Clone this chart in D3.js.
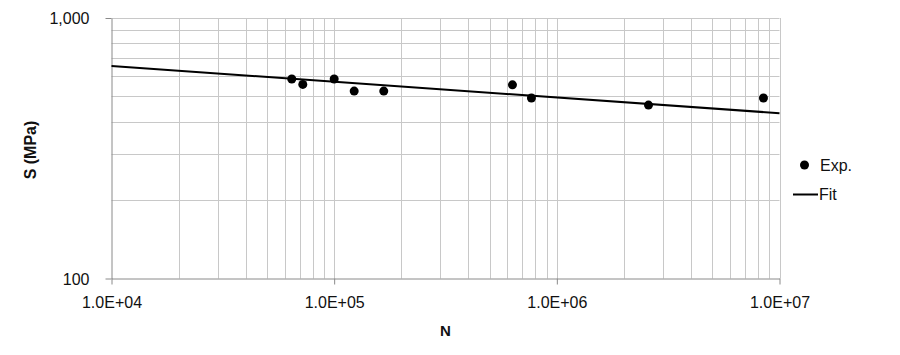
<!DOCTYPE html>
<html>
<head>
<meta charset="utf-8">
<script src="https://cdn.jsdelivr.net/npm/d3@7"></script>
<style>
  body { margin: 0; background: #fff; }
  text { font-family: "Liberation Sans", Arial, sans-serif; }
</style>
</head>
<body>
<svg id="chart"></svg>
<script>
// experimental points (cycles, stress MPa)
var expN = [64500, 72300, 100000, 123000, 167000, 632000, 769000, 2580000, 8470000];
var expS = [583, 556, 583, 524, 524, 554, 493, 463, 493];
// fit line end points
var fitN = [1e4, 1e7];
var fitS = [654, 431];
var xTickLabels = ["1.0E+04", "1.0E+05", "1.0E+06", "1.0E+07"];
var yTickLabels = ["100", "1,000"];

var width = 900, height = 355;
var plotLeft = 111.5, plotRight = 779.5, plotTop = 18, plotBottom = 278.5;

var svg = d3.select("#chart").attr("width", width).attr("height", height);

var x = d3.scaleLog().domain([1e4, 1e7]).range([plotLeft, plotRight]);
var y = d3.scaleLog().domain([100, 1000]).range([plotBottom, plotTop]);

// grid: every 1..9 within each decade
var xGrid = [];
for (var e = 4; e < 7; e++) for (var m = 1; m < 10; m++) xGrid.push(m * Math.pow(10, e));
xGrid.push(1e7);
var yGrid = [];
for (var m = 1; m < 10; m++) yGrid.push(m * 100);
yGrid.push(1000);

svg.append("g").selectAll("line").data(xGrid.slice(1)).enter().append("line")
    .attr("x1", d => Math.round(x(d)) + 0.5).attr("x2", d => Math.round(x(d)) + 0.5)
    .attr("y1", plotTop).attr("y2", plotBottom)
    .attr("stroke", "#c8c8c8").attr("stroke-width", 1);

svg.append("g").selectAll("line").data(yGrid.slice(1)).enter().append("line")
    .attr("x1", plotLeft).attr("x2", plotRight)
    .attr("y1", d => Math.round(y(d)) + 0.5).attr("y2", d => Math.round(y(d)) + 0.5)
    .attr("stroke", "#c8c8c8").attr("stroke-width", 1);

// axes
var xAxis = d3.axisBottom(x).tickValues([1e4, 1e5, 1e6, 1e7])
    .tickFormat((d, i) => xTickLabels[i]).tickSize(6).tickSizeOuter(0).tickPadding(12);
var gx = svg.append("g").attr("transform", "translate(0," + plotBottom + ")").call(xAxis);

var yAxis = d3.axisLeft(y).tickValues([100, 1000])
    .tickFormat((d, i) => yTickLabels[i]).tickSize(6).tickSizeOuter(0).tickPadding(16);
var gy = svg.append("g").attr("transform", "translate(" + plotLeft + ",0)").call(yAxis);

[gx, gy].forEach(function (g) {
    g.select(".domain").attr("stroke", "#8a8a8a");
    g.selectAll(".tick line").attr("stroke", "#8a8a8a");
    g.selectAll(".tick text").attr("fill", "#111").style("font-size", "16px");
});
gy.selectAll(".tick text").attr("dy", "0.35em");

// fit line
var line = d3.line().x(d => x(d[0])).y(d => y(d[1]));
svg.append("path")
    .datum(d3.zip(fitN, fitS))
    .attr("d", line)
    .attr("fill", "none").attr("stroke", "#000").attr("stroke-width", 2);

// experimental points
svg.append("g").selectAll("circle").data(d3.zip(expN, expS)).enter().append("circle")
    .attr("cx", d => x(d[0])).attr("cy", d => y(d[1]))
    .attr("r", 4.5).attr("fill", "#000");

// axis titles
svg.append("text").attr("x", (plotLeft + plotRight) / 2).attr("y", 336)
    .attr("text-anchor", "middle").style("font-size", "15px").style("font-weight", "bold")
    .attr("fill", "#111").text("N");
svg.append("text").attr("transform", "translate(36,150) rotate(-90)")
    .attr("text-anchor", "middle").style("font-size", "16px").style("font-weight", "bold")
    .attr("fill", "#111").text("S (MPa)");

// legend
var legend = svg.append("g");
legend.append("circle").attr("cx", 804.5).attr("cy", 165).attr("r", 4.5).attr("fill", "#000");
legend.append("text").attr("x", 820).attr("y", 165).attr("dy", "0.35em")
    .style("font-size", "16px").attr("fill", "#111").text("Exp.");
legend.append("line").attr("x1", 793).attr("x2", 818).attr("y1", 194.5).attr("y2", 194.5)
    .attr("stroke", "#000").attr("stroke-width", 2);
legend.append("text").attr("x", 819).attr("y", 194.5).attr("dy", "0.35em")
    .style("font-size", "16px").attr("fill", "#111").text("Fit");
</script>
</body>
</html>
